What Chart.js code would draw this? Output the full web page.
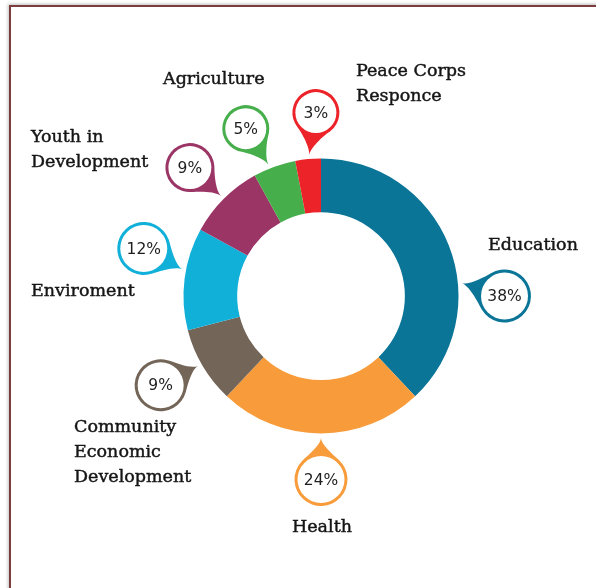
<!DOCTYPE html>
<html>
<head>
<meta charset="utf-8">
<script src="https://cdn.jsdelivr.net/npm/chart.js@4/dist/chart.umd.min.js"></script>
<style>
  html, body { margin: 0; padding: 0; background: #ffffff; overflow: hidden; }
  #frame {
    position: absolute; left: 9px; top: 5px; width: 620px; height: 620px;
    border-left: 2px solid #7b3d3d; border-top: 2px solid #7b3d3d;
    box-shadow: -1px -1px 3px rgba(0,0,0,0.25);
  }
  #wrap { position: absolute; left: 0; top: 0; width: 596px; height: 588px; }
</style>
</head>
<body>
<div id="frame"></div>
<div id="wrap"><canvas id="chart" width="596" height="588"></canvas></div>
<script>
// Program areas and their share of volunteers (%)
const categories = ['Education', 'Health', 'Community Economic Development', 'Enviroment',
                    'Youth in Development', 'Agriculture', 'Peace Corps Responce'];
const shares = [38, 24, 9, 12, 9, 5, 3];
const labelLines = [['Education'], ['Health'], ['Community', 'Economic', 'Development'],
                    ['Enviroment'], ['Youth in', 'Development'], ['Agriculture'],
                    ['Peace Corps', 'Responce']];

// Styling
const sliceColors = ['#0b7598', '#f89c3b', '#736557', '#10b0d8', '#9b3565', '#46ae4b', '#ec2329'];

// Callout bubble layout: angular nudge of the bubble and of its tip from the slice middle (deg),
// bubble radius, and name-label anchor relative to the ring centre.
const bubbleShift = [21.6, 0, 1.5, 7.8, -0.6, -4.4, 3.8];
const tipShift    = [16.4, 0, 1.0, 3.7, 0, -2.0, 0.6];
const bubbleSize  = [26.5, 26.5, 26, 26.5, 24.5, 23.5, 23.5];
const nameAnchor  = [[167, -51], [-29, 231], [-247, 131], [-290, -5], [-290, -159], [-158, -217], [35, -225]];

// Draws a droplet: a circle whose side facing (tx, ty) flows into a pointed tail.
function drawDroplet(ctx, cx, cy, R, tx, ty, color) {
  const th = Math.atan2(ty - cy, tx - cx);
  const a = 0.74;
  const ux = Math.cos(th), uy = Math.sin(th);
  const pt = (ang) => [cx + Math.cos(ang) * R, cy + Math.sin(ang) * R];
  const pA = pt(th - a);          // where the tail leaves the circle (one side)
  const pB = pt(th + a);          // other side
  // tangents of the circle at those points, heading towards the tail
  const tA = [-Math.sin(th - a), Math.cos(th - a)];
  const tB = [Math.sin(th + a), -Math.cos(th + a)];
  const k1 = R * 0.3, k2 = 7;
  ctx.beginPath();
  ctx.arc(cx, cy, R, th + a, th - a + Math.PI * 2);
  ctx.bezierCurveTo(pA[0] + tA[0] * k1, pA[1] + tA[1] * k1, tx - ux * k2, ty - uy * k2, tx, ty);
  ctx.bezierCurveTo(tx - ux * k2, ty - uy * k2, pB[0] + tB[0] * k1, pB[1] + tB[1] * k1, pB[0], pB[1]);
  ctx.closePath();
  ctx.fillStyle = color;
  ctx.fill();
  ctx.beginPath();
  ctx.arc(cx, cy, R - 3, 0, Math.PI * 2);
  ctx.fillStyle = '#ffffff';
  ctx.fill();
}

const calloutPlugin = {
  id: 'callouts',
  afterDatasetsDraw(chart) {
    const ctx = chart.ctx;
    const arcs = chart.getDatasetMeta(0).data;
    const toRad = Math.PI / 180;
    ctx.save();
    arcs.forEach((arc, i) => {
      const p = arc.getProps(['x', 'y', 'startAngle', 'endAngle', 'outerRadius'], true);
      const mid = (p.startAngle + p.endAngle) / 2;
      const ba = mid + bubbleShift[i] * toRad;
      const ta = mid + tipShift[i] * toRad;
      const dist = p.outerRadius + 46;
      const cx = p.x + Math.cos(ba) * dist;
      const cy = p.y + Math.sin(ba) * dist;
      const tx = p.x + Math.cos(ta) * (p.outerRadius + 4);
      const ty = p.y + Math.sin(ta) * (p.outerRadius + 4);
      drawDroplet(ctx, cx, cy, bubbleSize[i], tx, ty, sliceColors[i]);

      ctx.fillStyle = '#1e1e1e';
      ctx.textAlign = 'center';
      ctx.textBaseline = 'middle';
      ctx.font = '15.5px "DejaVu Sans"';
      ctx.fillText(shares[i] + '%', cx, cy + 1);

      ctx.textAlign = 'left';
      ctx.font = '17.5px "DejaVu Serif"';
      ctx.fillStyle = '#161616';
      ctx.strokeStyle = '#161616';
      ctx.lineWidth = 0.45;
      labelLines[i].forEach((line, k) => {
        const lx = p.x + nameAnchor[i][0], ly = p.y + nameAnchor[i][1] + k * 25;
        ctx.fillText(line, lx, ly);
        ctx.strokeText(line, lx, ly);
      });
    });
    ctx.restore();
  }
};

new Chart(document.getElementById('chart'), {
  type: 'doughnut',
  data: {
    labels: categories,
    datasets: [{
      data: shares,
      backgroundColor: sliceColors,
      borderWidth: 0
    }]
  },
  options: {
    responsive: false,
    animation: false,
    events: [],
    cutout: '61%',
    layout: { padding: { left: 183.5, right: 137.5, top: 158.5, bottom: 154.5 } },
    plugins: { legend: { display: false }, tooltip: { enabled: false } }
  },
  plugins: [calloutPlugin]
});
</script>
</body>
</html>
